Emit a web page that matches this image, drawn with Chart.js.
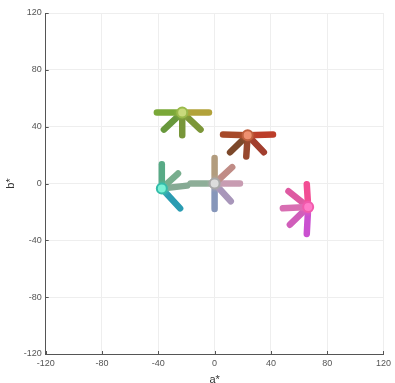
<!DOCTYPE html>
<html><head><meta charset="utf-8">
<script src="https://cdn.jsdelivr.net/npm/chart.js@4.4.0/dist/chart.umd.min.js"></script>
<style>html,body{margin:0;padding:0;background:#fff;}#wrap{width:395px;height:383px;}</style>
</head><body><div id="wrap"><canvas id="c" width="395" height="383"></canvas></div>
<script>
// Tick labels
const tickValues = [-120, -80, -40, 0, 40, 80, 120];
// Star centres (a*, b*)
const centerA = [-23, 23.5, -37.5, 0, 66.5];
const centerB = [50, 34, -3.5, 0, -16.5];
// Arms: which star, and end point (a*, b*)
const armStar = [0,0,0,0,0, 1,1,1,1,1, 2,2,2,2, 3,3,3,3,3,3, 4,4,4,4,4];
const armEndA = [-41,-4,-36,-23,-10,  6,41.5,11,22.5,35,  -37.5,-26,-19.5,-24.5,  0,12.5,18,11.5,0,-17,  65.5,65.5,48.5,52.5,53.5];
const armEndB = [50,50,38,34,38,  34.5,34.5,22,19,22,  13.5,7,-1.5,-17.5,  18,11.5,0,-12.5,-18,0,  -0.5,-35.5,-17.5,-5.5,-29];

// styles
const centerFill = ['#c8da7c','#ee9070','#7af2d6','#dcdcdc','#ff7cc8'];
const centerRing = ['#9aba4c','#c0603e','#34bcaa','#a8a8a8','#f25aac'];
const armNear = ['#98b646','#b85834','#4cc4ae','#b4acac','#f262b6'];
const armColor = ['#7aa838','#b2a23a','#68983c','#78963a','#7c9638',
  '#a64a2a','#bc3e2a','#7c482a','#98482e','#a23e2e',
  '#58aa86','#78ae8e','#86aa94','#2a9cb2',
  '#b29c7e','#c08c86','#c89cb2','#a896ba','#8696ba','#8eae98',
  '#f24e94','#ca50d0','#d86eb2','#de5aa2','#d05eba'];

const datasets = [];
armStar.forEach((s, i) => {
  datasets.push({
    type: 'line',
    data: [{x: centerA[s], y: centerB[s]}, {x: armEndA[i], y: armEndB[i]}],
    showLine: true,
    borderWidth: 6.5,
    borderCapStyle: 'round',
    pointRadius: 0,
    borderColor: (ctx) => {
      const ch = ctx.chart;
      if (!ch.chartArea) return armColor[i];
      const xs = ch.scales.x, ys = ch.scales.y;
      const g = ch.ctx.createLinearGradient(xs.getPixelForValue(centerA[s]), ys.getPixelForValue(centerB[s]),
        xs.getPixelForValue(armEndA[i]), ys.getPixelForValue(armEndB[i]));
      g.addColorStop(0, armNear[s]);
      g.addColorStop(0.35, armColor[i]);
      g.addColorStop(1, armColor[i]);
      return g;
    },
    order: 2
  });
});
datasets.push({
  type: 'scatter',
  data: centerA.map((a, k) => ({x: a, y: centerB[k]})),
  pointRadius: 5,
  pointBackgroundColor: centerFill,
  pointBorderColor: centerRing,
  pointBorderWidth: 2,
  order: 1
});

const innerTicks = {
  id: 'innerTicks',
  afterDraw(chart) {
    const c = chart.ctx, xs = chart.scales.x, ys = chart.scales.y, a = chart.chartArea;
    c.save(); c.strokeStyle = '#555'; c.lineWidth = 1;
    tickValues.forEach(v => {
      const px = Math.round(xs.getPixelForValue(v)) + 0.5;
      c.beginPath(); c.moveTo(px, a.bottom); c.lineTo(px, a.bottom - 3); c.stroke();
      const py = Math.round(ys.getPixelForValue(v)) + 0.5;
      c.beginPath(); c.moveTo(a.left, py); c.lineTo(a.left + 3, py); c.stroke();
    });
    c.restore();
  }
};

const fontFam = '"Liberation Sans", Arial, sans-serif';
new Chart(document.getElementById('c'), {
  type: 'scatter',
  data: { datasets },
  plugins: [innerTicks],
  options: {
    responsive: false,
    animation: false,
    layout: { padding: { left: 0, right: 7, top: 13, bottom: 0 } },
    plugins: { legend: { display: false }, tooltip: { enabled: false } },
    scales: {
      x: {
        type: 'linear', min: -120, max: 120,
        afterBuildTicks: (sc) => { sc.ticks = tickValues.map(v => ({value: v})); },
        afterFit: (sc) => { sc.height = 29; },
        grid: { color: '#eeeeee', drawTicks: false },
        border: { color: '#555', width: 1 },
        ticks: { color: '#555', font: { family: fontFam, size: 9 }, padding: 4, maxRotation: 0 },
        title: { display: true, text: 'a*', color: '#333', font: { family: fontFam, size: 11 }, padding: { top: 0, bottom: -4 } }
      },
      y: {
        type: 'linear', min: -120, max: 120,
        afterBuildTicks: (sc) => { sc.ticks = tickValues.map(v => ({value: v})); },
        afterFit: (sc) => { sc.width = 45.7; },
        grid: { color: '#eeeeee', drawTicks: false },
        border: { color: '#555', width: 1 },
        ticks: { color: '#555', font: { family: fontFam, size: 9 }, padding: 4 },
        title: { display: true, text: 'b*', color: '#333', font: { family: fontFam, size: 11 }, padding: { top: 4, bottom: 0 } }
      }
    }
  }
});
</script></body></html>
